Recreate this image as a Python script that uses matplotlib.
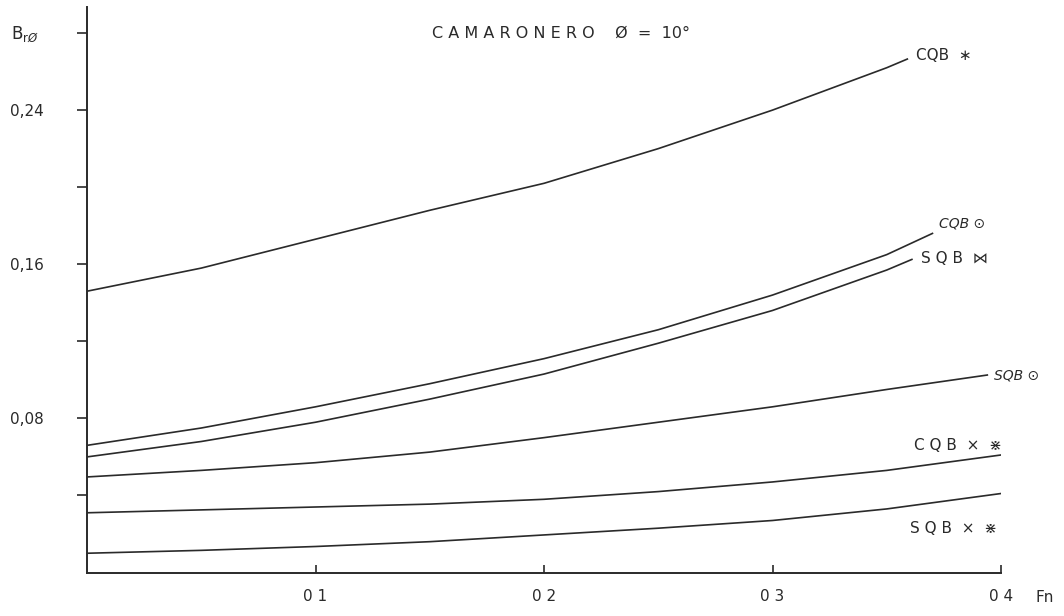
import matplotlib.pyplot as plt

# Fn valores
fn = [0.0, 0.05, 0.10, 0.15, 0.20, 0.25, 0.30, 0.35]

cqb_star = [0.146, 0.158, 0.173, 0.188, 0.202, 0.220, 0.240, 0.262]
cqb_star_end = (0.359, 0.2665)

cqb_circ = [0.066, 0.075, 0.086, 0.098, 0.111, 0.126, 0.144, 0.165]
cqb_circ_end = (0.370, 0.176)

sqb_star = [0.060, 0.068, 0.078, 0.090, 0.103, 0.119, 0.136, 0.157]
sqb_star_end = (0.361, 0.1625)

sqb_circ = [0.0496, 0.053, 0.057, 0.0625, 0.070, 0.078, 0.086, 0.095]
sqb_circ_end = (0.394, 0.1025)

cqb_xx = [0.031, 0.0325, 0.034, 0.0355, 0.038, 0.042, 0.047, 0.053]
cqb_xx_end = (0.40, 0.061)

sqb_xx = [0.010, 0.0115, 0.0135, 0.016, 0.0195, 0.023, 0.027, 0.033]
sqb_xx_end = (0.40, 0.041)

series = [cqb_star, cqb_circ, sqb_star, sqb_circ, cqb_xx, sqb_xx]
ends = [cqb_star_end, cqb_circ_end, sqb_star_end, sqb_circ_end, cqb_xx_end, sqb_xx_end]

yticks = [0.04, 0.08, 0.12, 0.16, 0.20, 0.24, 0.28]
ytick_labels = ["", "0,08", "", "0,16", "", "0,24", ""]
xticks = [0.1, 0.2, 0.3, 0.4]
xtick_labels = ["0 1", "0 2", "0 3", "0 4"]

ink = "#2a2a2a"
plt.rcParams['font.family'] = ['DejaVu Sans']

fig = plt.figure(figsize=(10.64, 6.16), dpi=100)
ax = fig.add_axes([0.0818, 0.0706, 0.859, 0.918])

for ys, end in zip(series, ends):
    ax.plot(fn + [end[0]], ys + [end[1]], color=ink, lw=1.2)

ax.set_xlim(0, 0.4)
ax.set_ylim(0, 0.2935)
ax.spines['top'].set_visible(False)
ax.spines['right'].set_visible(False)
for s in ['left', 'bottom']:
    ax.spines[s].set_color(ink)
    ax.spines[s].set_linewidth(1.4)

ax.set_yticks(yticks)
ax.set_yticklabels(ytick_labels, fontsize=11, color=ink)
ax.set_xticks(xticks)
ax.set_xticklabels(xtick_labels, fontsize=11, color=ink)
ax.tick_params(axis='y', direction='out', length=7, width=1.2, pad=24, color=ink)
ax.tick_params(axis='x', direction='in', length=6, width=1.2, pad=12, color=ink)

ax.text(-0.083, 0.952, r"B$_{\mathrm{r}\O}$", transform=ax.transAxes, fontsize=12,
        color=ink, ha='left', va='center')
ax.text(1.038, -0.045, "Fn", transform=ax.transAxes, fontsize=11,
        color=ink, ha='left', va='center')
ax.text(0.377, 0.953, "C A M A R O N E R O    Ø  =  10°", transform=ax.transAxes,
        fontsize=11.5, color=ink, ha='left', va='center')

# etiquetas de las curvas
ax.text(0.363, 0.2685, "CQB  ∗", fontsize=11, color=ink, va='center')
ax.text(0.373, 0.181, "CQB ⊙", fontsize=10, style='italic', color=ink, va='center')
ax.text(0.365, 0.163, "S Q B  ⋈", fontsize=11, color=ink, va='center')
ax.text(0.397, 0.1025, "SQB ⊙", fontsize=10, style='italic', color=ink, va='center')
ax.text(0.362, 0.066, "C Q B  ×  ⋇", fontsize=11, color=ink, va='center')
ax.text(0.360, 0.023, "S Q B  ×  ⋇", fontsize=11, color=ink, va='center')

fig.savefig("out.png", dpi=100, facecolor='white')
